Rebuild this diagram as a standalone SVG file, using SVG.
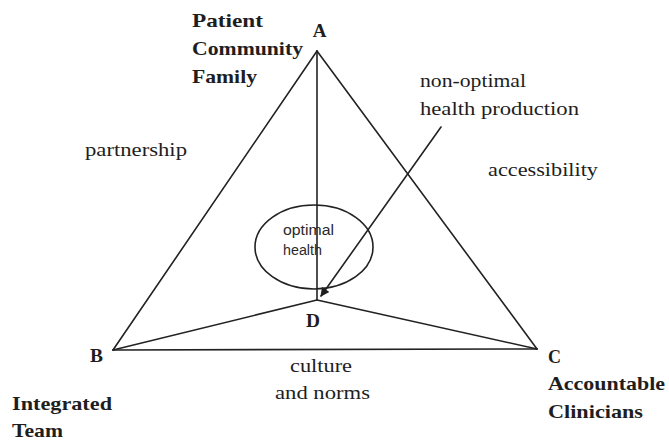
<svg xmlns="http://www.w3.org/2000/svg" width="669" height="442" viewBox="0 0 669 442">
  <style>
    .edge { stroke: #222; stroke-width: 1.6; fill: none; stroke-linecap: round; stroke-linejoin: round; }
    .bold { font-weight: bold; font-size: 19px; fill: #1e1e1e; }
    .reg { font-size: 19px; fill: #1e1e1e; }
    .small { font-size: 14px; fill: #2a2a2a; }
  </style>
  <defs>
    <marker id="arrow" viewBox="0 0 10 10" refX="9" refY="5" markerWidth="10" markerHeight="9" orient="auto" markerUnits="userSpaceOnUse">
      <path d="M0,0 L10,5 L0,10 z" fill="#1e1e1e"/>
    </marker>
  </defs>
  <rect width="669" height="442" fill="#ffffff"/>

  <!-- triangle sides and spokes to the centre point D -->
  <g id="connectors">
    <line class="edge" x1="317" y1="51" x2="113" y2="350"/>
    <line class="edge" x1="317" y1="51" x2="537" y2="349"/>
    <line class="edge" x1="113" y1="350" x2="537" y2="349"/>
    <line class="edge" x1="317" y1="51" x2="317" y2="300"/>
    <line class="edge" x1="113" y1="350" x2="317" y2="300"/>
    <line class="edge" x1="537" y1="349" x2="317" y2="300"/>
    <line class="edge" x1="441" y1="127" x2="321" y2="296" marker-end="url(#arrow)" stroke-width="1.5"/>
  </g>

  <g font-family="Liberation Serif, Times New Roman, serif">
    <g id="node-A">
      <text class="bold" x="319.5" y="37" text-anchor="middle" font-size="17">A</text>
      <text class="bold" x="192" y="27" textLength="71" lengthAdjust="spacingAndGlyphs">Patient</text>
      <text class="bold" x="192" y="55" textLength="111" lengthAdjust="spacingAndGlyphs">Community</text>
      <text class="bold" x="192" y="83" textLength="65" lengthAdjust="spacingAndGlyphs">Family</text>
    </g>

    <g id="node-B">
      <text class="bold" x="90" y="362" textLength="13" lengthAdjust="spacingAndGlyphs" font-size="17">B</text>
      <text class="bold" x="12" y="410" textLength="100" lengthAdjust="spacingAndGlyphs">Integrated</text>
      <text class="bold" x="12" y="437" textLength="51" lengthAdjust="spacingAndGlyphs">Team</text>
    </g>

    <g id="node-C">
      <text class="bold" x="548" y="363" textLength="13" lengthAdjust="spacingAndGlyphs" font-size="17">C</text>
      <text class="bold" x="548" y="390" textLength="117" lengthAdjust="spacingAndGlyphs">Accountable</text>
      <text class="bold" x="548" y="418" textLength="95" lengthAdjust="spacingAndGlyphs">Clinicians</text>
    </g>

    <g id="node-D">
      <text class="bold" x="306" y="327" textLength="14" lengthAdjust="spacingAndGlyphs" font-size="17">D</text>
    </g>

    <g id="label-non-optimal">
      <text class="reg" x="420" y="87" textLength="106" lengthAdjust="spacingAndGlyphs">non-optimal</text>
      <text class="reg" x="420" y="115" textLength="159" lengthAdjust="spacingAndGlyphs">health production</text>
    </g>

    <g id="label-partnership">
      <text class="reg" x="85" y="156" textLength="102" lengthAdjust="spacingAndGlyphs">partnership</text>
    </g>

    <g id="label-accessibility">
      <text class="reg" x="488" y="176" textLength="110" lengthAdjust="spacingAndGlyphs">accessibility</text>
    </g>

    <g id="label-culture">
      <text class="reg" x="290" y="372" textLength="62" lengthAdjust="spacingAndGlyphs">culture</text>
      <text class="reg" x="275" y="399" textLength="95" lengthAdjust="spacingAndGlyphs">and norms</text>
    </g>
  </g>

  <g id="optimal-health" font-family="Liberation Sans, Arial, sans-serif">
    <ellipse class="edge" cx="314" cy="247" rx="59" ry="42" stroke-width="1.4"/>
    <text class="small" x="283" y="235" textLength="51" lengthAdjust="spacingAndGlyphs">optimal</text>
    <text class="small" x="283" y="255" textLength="39" lengthAdjust="spacingAndGlyphs">health</text>
  </g>
</svg>
